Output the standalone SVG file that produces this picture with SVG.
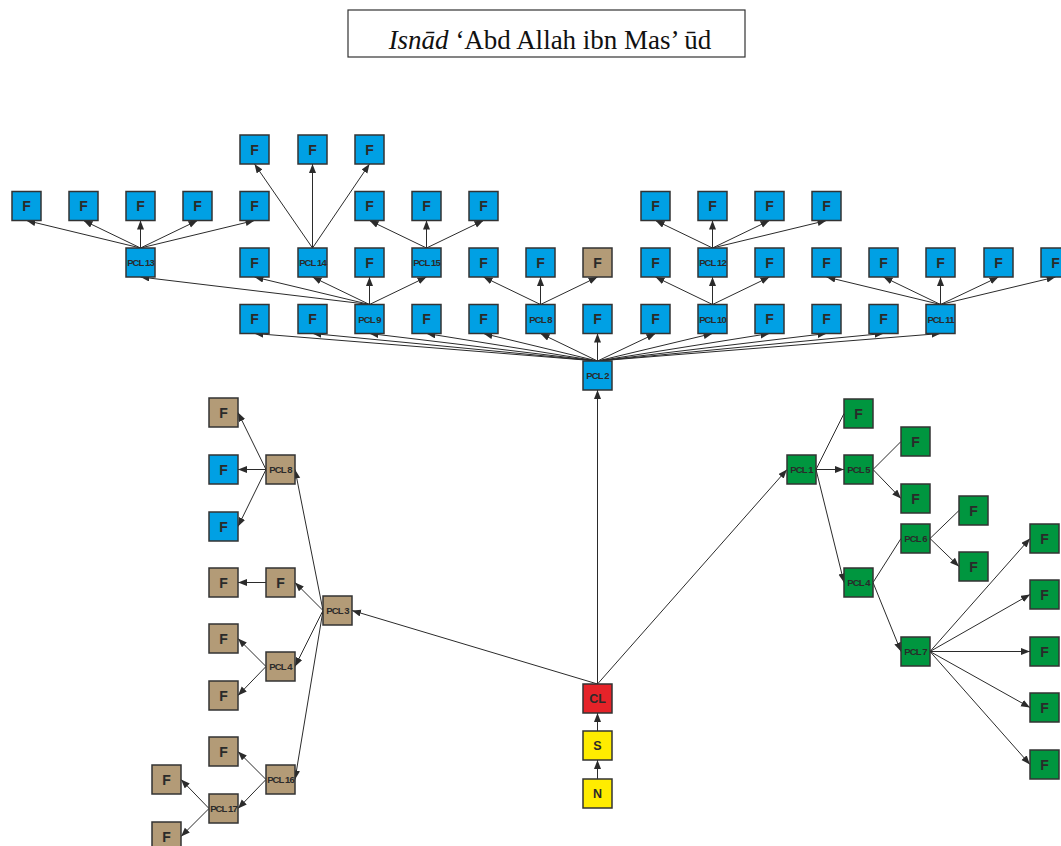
<svg xmlns="http://www.w3.org/2000/svg" width="1061" height="846" viewBox="0 0 1061 846">
  <style>
    .nd rect { stroke: #333333; stroke-width: 1.5; }
    .blue rect { fill: #00a0e4; }
    .brown rect { fill: #b39b77; }
    .green rect { fill: #00963f; }
    .red rect { fill: #e52329; }
    .yellow rect { fill: #ffec00; }
    .nd text { font-family: "Liberation Sans", Arial, sans-serif; font-weight: bold; fill: #2a2a2a; text-anchor: middle; }
    .f { font-size: 14px; }
    .p { font-size: 9.5px; letter-spacing: -0.9px; }
    .m { font-size: 12.5px; }
    .e line { stroke: #2b2b2b; stroke-width: 1; }
    .e line.a { marker-end: url(#ah); }
    .title { font-family: "Liberation Serif", "Times New Roman", serif; font-size: 27px; fill: #111; text-anchor: middle; }
  </style>
  <defs>
    <marker id="ah" markerUnits="userSpaceOnUse" markerWidth="10" markerHeight="8" refX="9" refY="3.5" orient="auto">
      <path d="M0,0 L9,3.5 L0,7 z" fill="#2b2b2b"/>
    </marker>
  </defs>
  <rect width="1061" height="846" fill="#ffffff"/>

  <!-- title -->
  <g id="title">
    <rect x="348" y="10" width="397" height="47" fill="#fff" stroke="#333" stroke-width="1.2"/>
    <text class="title" x="550" y="49"><tspan font-style="italic">Isnād</tspan> ‘Abd Allah ibn Mas’ ūd</text>
  </g>

  <!-- connectors -->
  <g id="edges" class="e">
    <!-- PCL 2 fan -->
    <line class="a" x1="597.5" y1="361" x2="254.5" y2="333.5"/>
    <line class="a" x1="597.5" y1="361" x2="312.5" y2="333.5"/>
    <line class="a" x1="597.5" y1="361" x2="369.5" y2="333.5"/>
    <line class="a" x1="597.5" y1="361" x2="426.5" y2="333.5"/>
    <line class="a" x1="597.5" y1="361" x2="483.5" y2="333.5"/>
    <line class="a" x1="597.5" y1="361" x2="540.5" y2="333.5"/>
    <line class="a" x1="597.5" y1="361" x2="597.5" y2="333.5"/>
    <line class="a" x1="597.5" y1="361" x2="655.5" y2="333.5"/>
    <line class="a" x1="597.5" y1="361" x2="712.5" y2="333.5"/>
    <line class="a" x1="597.5" y1="361" x2="769.5" y2="333.5"/>
    <line class="a" x1="597.5" y1="361" x2="826.5" y2="333.5"/>
    <line class="a" x1="597.5" y1="361" x2="883.5" y2="333.5"/>
    <line class="a" x1="597.5" y1="361" x2="940.5" y2="333.5"/>
    <!-- PCL 9 -->
    <line class="a" x1="369.5" y1="304.5" x2="140.5" y2="277"/>
    <line class="a" x1="369.5" y1="304.5" x2="254.5" y2="277"/>
    <line class="a" x1="369.5" y1="304.5" x2="312.5" y2="277"/>
    <line class="a" x1="369.5" y1="304.5" x2="369.5" y2="277"/>
    <line class="a" x1="369.5" y1="304.5" x2="426.5" y2="277"/>
    <!-- PCL 8 (top) -->
    <line class="a" x1="540.5" y1="304.5" x2="483.5" y2="277"/>
    <line class="a" x1="540.5" y1="304.5" x2="540.5" y2="277"/>
    <line class="a" x1="540.5" y1="304.5" x2="597.5" y2="277"/>
    <!-- PCL 10 -->
    <line class="a" x1="712.5" y1="304.5" x2="655.5" y2="277"/>
    <line class="a" x1="712.5" y1="304.5" x2="712.5" y2="277"/>
    <line class="a" x1="712.5" y1="304.5" x2="769.5" y2="277"/>
    <!-- PCL 11 -->
    <line class="a" x1="940.5" y1="304.5" x2="826.5" y2="277"/>
    <line class="a" x1="940.5" y1="304.5" x2="883.5" y2="277"/>
    <line class="a" x1="940.5" y1="304.5" x2="940.5" y2="277"/>
    <line class="a" x1="940.5" y1="304.5" x2="998.5" y2="277"/>
    <line class="a" x1="940.5" y1="304.5" x2="1055.5" y2="277"/>
    <!-- PCL 13 -->
    <line class="a" x1="140.5" y1="248" x2="26.5" y2="220.5"/>
    <line class="a" x1="140.5" y1="248" x2="83.5" y2="220.5"/>
    <line class="a" x1="140.5" y1="248" x2="140.5" y2="220.5"/>
    <line class="a" x1="140.5" y1="248" x2="197.5" y2="220.5"/>
    <line class="a" x1="140.5" y1="248" x2="254.5" y2="220.5"/>
    <!-- PCL 14 -->
    <line class="a" x1="312.5" y1="248" x2="254.5" y2="164"/>
    <line class="a" x1="312.5" y1="248" x2="312.5" y2="164"/>
    <line class="a" x1="312.5" y1="248" x2="369.5" y2="164"/>
    <!-- PCL 15 -->
    <line class="a" x1="426.5" y1="248" x2="369.5" y2="220.5"/>
    <line class="a" x1="426.5" y1="248" x2="426.5" y2="220.5"/>
    <line class="a" x1="426.5" y1="248" x2="483.5" y2="220.5"/>
    <!-- PCL 12 -->
    <line class="a" x1="712.5" y1="248" x2="655.5" y2="220.5"/>
    <line class="a" x1="712.5" y1="248" x2="712.5" y2="220.5"/>
    <line class="a" x1="712.5" y1="248" x2="769.5" y2="220.5"/>
    <line class="a" x1="712.5" y1="248" x2="826.5" y2="220.5"/>

    <!-- trunk -->
    <line class="a" x1="597.5" y1="779" x2="597.5" y2="760"/>
    <line class="a" x1="597.5" y1="731" x2="597.5" y2="713"/>
    <line class="a" x1="597.5" y1="684" x2="597.5" y2="390"/>
    <line class="a" x1="597.5" y1="684" x2="352" y2="610.5"/>
    <line class="a" x1="597.5" y1="684" x2="787" y2="469.5"/>

    <!-- PCL 3 branch -->
    <line class="a" x1="323" y1="610.5" x2="295" y2="469.5"/>
    <line class="a" x1="323" y1="610.5" x2="295" y2="582.5"/>
    <line class="a" x1="323" y1="610.5" x2="295" y2="666.5"/>
    <line class="a" x1="323" y1="610.5" x2="295" y2="779.5"/>
    <line class="a" x1="266" y1="469.5" x2="238" y2="412.5"/>
    <line class="a" x1="266" y1="469.5" x2="238" y2="469.5"/>
    <line class="a" x1="266" y1="469.5" x2="238" y2="526.5"/>
    <line class="a" x1="266" y1="582.5" x2="238" y2="582.5"/>
    <line class="a" x1="266" y1="666.5" x2="238" y2="638.5"/>
    <line class="a" x1="266" y1="666.5" x2="238" y2="695.5"/>
    <line class="a" x1="266" y1="779.5" x2="238" y2="751.5"/>
    <line class="a" x1="266" y1="779.5" x2="238" y2="808.5"/>
    <line class="a" x1="209" y1="808.5" x2="181" y2="779.5"/>
    <line class="a" x1="209" y1="808.5" x2="181" y2="836.5"/>

    <!-- PCL 1 branch -->
    <line x1="816" y1="469.5" x2="844" y2="413.5"/>
    <line class="a" x1="816" y1="469.5" x2="844" y2="469.5"/>
    <line class="a" x1="816" y1="469.5" x2="844" y2="582.5"/>
    <line x1="873" y1="469.5" x2="901" y2="441.5"/>
    <line class="a" x1="873" y1="469.5" x2="901" y2="498.5"/>
    <line x1="873" y1="582.5" x2="901" y2="538.5"/>
    <line class="a" x1="873" y1="582.5" x2="901" y2="651.5"/>
    <line x1="930" y1="538.5" x2="959" y2="510.5"/>
    <line class="a" x1="930" y1="538.5" x2="959" y2="566.5"/>
    <line class="a" x1="930" y1="651.5" x2="1030" y2="538.5"/>
    <line class="a" x1="930" y1="651.5" x2="1030" y2="594.5"/>
    <line class="a" x1="930" y1="651.5" x2="1030" y2="651.5"/>
    <line class="a" x1="930" y1="651.5" x2="1030" y2="707.5"/>
    <line class="a" x1="930" y1="651.5" x2="1030" y2="764.5"/>
  </g>

  <!-- upper blue tree -->
  <g id="pcl2" class="nd blue"><rect x="583" y="361" width="29" height="29"/><text class="p" x="597.5" y="378.5">PCL 2</text></g>

  <g id="fA4" class="nd blue"><rect x="240" y="135" width="29" height="29"/><text class="f" x="254.5" y="154.5">F</text></g>
  <g id="fA5" class="nd blue"><rect x="298" y="135" width="29" height="29"/><text class="f" x="312.5" y="154.5">F</text></g>
  <g id="fA6" class="nd blue"><rect x="355" y="135" width="29" height="29"/><text class="f" x="369.5" y="154.5">F</text></g>

  <g id="fB0" class="nd blue"><rect x="12" y="191.5" width="29" height="29"/><text class="f" x="26.5" y="211">F</text></g>
  <g id="fB1" class="nd blue"><rect x="69" y="191.5" width="29" height="29"/><text class="f" x="83.5" y="211">F</text></g>
  <g id="fB2" class="nd blue"><rect x="126" y="191.5" width="29" height="29"/><text class="f" x="140.5" y="211">F</text></g>
  <g id="fB3" class="nd blue"><rect x="183" y="191.5" width="29" height="29"/><text class="f" x="197.5" y="211">F</text></g>
  <g id="fB4" class="nd blue"><rect x="240" y="191.5" width="29" height="29"/><text class="f" x="254.5" y="211">F</text></g>
  <g id="fB6" class="nd blue"><rect x="355" y="191.5" width="29" height="29"/><text class="f" x="369.5" y="211">F</text></g>
  <g id="fB7" class="nd blue"><rect x="412" y="191.5" width="29" height="29"/><text class="f" x="426.5" y="211">F</text></g>
  <g id="fB8" class="nd blue"><rect x="469" y="191.5" width="29" height="29"/><text class="f" x="483.5" y="211">F</text></g>
  <g id="fB11" class="nd blue"><rect x="641" y="191.5" width="29" height="29"/><text class="f" x="655.5" y="211">F</text></g>
  <g id="fB12" class="nd blue"><rect x="698" y="191.5" width="29" height="29"/><text class="f" x="712.5" y="211">F</text></g>
  <g id="fB13" class="nd blue"><rect x="755" y="191.5" width="29" height="29"/><text class="f" x="769.5" y="211">F</text></g>
  <g id="fB14" class="nd blue"><rect x="812" y="191.5" width="29" height="29"/><text class="f" x="826.5" y="211">F</text></g>

  <g id="pcl13" class="nd blue"><rect x="126" y="248" width="29" height="29"/><text class="p" x="140.5" y="266">PCL 13</text></g>
  <g id="fC4" class="nd blue"><rect x="240" y="248" width="29" height="29"/><text class="f" x="254.5" y="267.5">F</text></g>
  <g id="pcl14" class="nd blue"><rect x="298" y="248" width="29" height="29"/><text class="p" x="312.5" y="266">PCL 14</text></g>
  <g id="fC6" class="nd blue"><rect x="355" y="248" width="29" height="29"/><text class="f" x="369.5" y="267.5">F</text></g>
  <g id="pcl15" class="nd blue"><rect x="412" y="248" width="29" height="29"/><text class="p" x="426.5" y="266">PCL 15</text></g>
  <g id="fC8" class="nd blue"><rect x="469" y="248" width="29" height="29"/><text class="f" x="483.5" y="267.5">F</text></g>
  <g id="fC9" class="nd blue"><rect x="526" y="248" width="29" height="29"/><text class="f" x="540.5" y="267.5">F</text></g>
  <g id="fC10" class="nd brown"><rect x="583" y="248" width="29" height="29"/><text class="f" x="597.5" y="267.5">F</text></g>
  <g id="fC11" class="nd blue"><rect x="641" y="248" width="29" height="29"/><text class="f" x="655.5" y="267.5">F</text></g>
  <g id="pcl12" class="nd blue"><rect x="698" y="248" width="29" height="29"/><text class="p" x="712.5" y="266">PCL 12</text></g>
  <g id="fC13" class="nd blue"><rect x="755" y="248" width="29" height="29"/><text class="f" x="769.5" y="267.5">F</text></g>
  <g id="fC14" class="nd blue"><rect x="812" y="248" width="29" height="29"/><text class="f" x="826.5" y="267.5">F</text></g>
  <g id="fC15" class="nd blue"><rect x="869" y="248" width="29" height="29"/><text class="f" x="883.5" y="267.5">F</text></g>
  <g id="fC16" class="nd blue"><rect x="926" y="248" width="29" height="29"/><text class="f" x="940.5" y="267.5">F</text></g>
  <g id="fC17" class="nd blue"><rect x="984" y="248" width="29" height="29"/><text class="f" x="998.5" y="267.5">F</text></g>
  <g id="fC18" class="nd blue"><rect x="1041" y="248" width="29" height="29"/><text class="f" x="1055.5" y="267.5">F</text></g>

  <g id="fD4" class="nd blue"><rect x="240" y="304.5" width="29" height="29"/><text class="f" x="254.5" y="324">F</text></g>
  <g id="fD5" class="nd blue"><rect x="298" y="304.5" width="29" height="29"/><text class="f" x="312.5" y="324">F</text></g>
  <g id="pcl9" class="nd blue"><rect x="355" y="304.5" width="29" height="29"/><text class="p" x="369.5" y="322.5">PCL 9</text></g>
  <g id="fD7" class="nd blue"><rect x="412" y="304.5" width="29" height="29"/><text class="f" x="426.5" y="324">F</text></g>
  <g id="fD8" class="nd blue"><rect x="469" y="304.5" width="29" height="29"/><text class="f" x="483.5" y="324">F</text></g>
  <g id="pcl8" class="nd blue"><rect x="526" y="304.5" width="29" height="29"/><text class="p" x="540.5" y="322.5">PCL 8</text></g>
  <g id="fD10" class="nd blue"><rect x="583" y="304.5" width="29" height="29"/><text class="f" x="597.5" y="324">F</text></g>
  <g id="fD11" class="nd blue"><rect x="641" y="304.5" width="29" height="29"/><text class="f" x="655.5" y="324">F</text></g>
  <g id="pcl10" class="nd blue"><rect x="698" y="304.5" width="29" height="29"/><text class="p" x="712.5" y="322.5">PCL 10</text></g>
  <g id="fD13" class="nd blue"><rect x="755" y="304.5" width="29" height="29"/><text class="f" x="769.5" y="324">F</text></g>
  <g id="fD14" class="nd blue"><rect x="812" y="304.5" width="29" height="29"/><text class="f" x="826.5" y="324">F</text></g>
  <g id="fD15" class="nd blue"><rect x="869" y="304.5" width="29" height="29"/><text class="f" x="883.5" y="324">F</text></g>
  <g id="pcl11" class="nd blue"><rect x="926" y="304.5" width="29" height="29"/><text class="p" x="940.5" y="322.5">PCL 11</text></g>

  <!-- trunk nodes -->
  <g id="cl" class="nd red"><rect x="583" y="684" width="29" height="29"/><text class="m" x="597.5" y="703">CL</text></g>
  <g id="s" class="nd yellow"><rect x="583" y="731" width="29" height="29"/><text class="m" x="597.5" y="750">S</text></g>
  <g id="n" class="nd yellow"><rect x="583" y="779" width="29" height="29"/><text class="m" x="597.5" y="798">N</text></g>

  <!-- brown branch -->
  <g id="pcl3" class="nd brown"><rect x="323" y="596" width="29" height="29"/><text class="p" x="337.5" y="614">PCL 3</text></g>
  <g id="pcl8b" class="nd brown"><rect x="266" y="455" width="29" height="29"/><text class="p" x="280.5" y="473">PCL 8</text></g>
  <g id="fb1" class="nd brown"><rect x="209" y="398" width="29" height="29"/><text class="f" x="223.5" y="417.5">F</text></g>
  <g id="fbl1" class="nd blue"><rect x="209" y="455" width="29" height="29"/><text class="f" x="223.5" y="474.5">F</text></g>
  <g id="fbl2" class="nd blue"><rect x="209" y="512" width="29" height="29"/><text class="f" x="223.5" y="531.5">F</text></g>
  <g id="fb2" class="nd brown"><rect x="209" y="568" width="29" height="29"/><text class="f" x="223.5" y="587.5">F</text></g>
  <g id="fb3" class="nd brown"><rect x="266" y="568" width="29" height="29"/><text class="f" x="280.5" y="587.5">F</text></g>
  <g id="pcl4b" class="nd brown"><rect x="266" y="652" width="29" height="29"/><text class="p" x="280.5" y="670">PCL 4</text></g>
  <g id="fb4" class="nd brown"><rect x="209" y="624" width="29" height="29"/><text class="f" x="223.5" y="643.5">F</text></g>
  <g id="fb5" class="nd brown"><rect x="209" y="681" width="29" height="29"/><text class="f" x="223.5" y="700.5">F</text></g>
  <g id="pcl16" class="nd brown"><rect x="266" y="765" width="29" height="29"/><text class="p" x="280.5" y="783">PCL 16</text></g>
  <g id="fb6" class="nd brown"><rect x="209" y="737" width="29" height="29"/><text class="f" x="223.5" y="756.5">F</text></g>
  <g id="pcl17" class="nd brown"><rect x="209" y="794" width="29" height="29"/><text class="p" x="223.5" y="812">PCL 17</text></g>
  <g id="fb7" class="nd brown"><rect x="152" y="765" width="29" height="29"/><text class="f" x="166.5" y="784.5">F</text></g>
  <g id="fb8" class="nd brown"><rect x="152" y="822" width="29" height="29"/><text class="f" x="166.5" y="841.5">F</text></g>

  <!-- green branch -->
  <g id="pcl1" class="nd green"><rect x="787" y="455" width="29" height="29"/><text class="p" x="801.5" y="473">PCL 1</text></g>
  <g id="fg1" class="nd green"><rect x="844" y="399" width="29" height="29"/><text class="f" x="858.5" y="418.5">F</text></g>
  <g id="pcl5" class="nd green"><rect x="844" y="455" width="29" height="29"/><text class="p" x="858.5" y="473">PCL 5</text></g>
  <g id="fg2" class="nd green"><rect x="901" y="427" width="29" height="29"/><text class="f" x="915.5" y="446.5">F</text></g>
  <g id="fg3" class="nd green"><rect x="901" y="484" width="29" height="29"/><text class="f" x="915.5" y="503.5">F</text></g>
  <g id="pcl4g" class="nd green"><rect x="844" y="568" width="29" height="29"/><text class="p" x="858.5" y="586">PCL 4</text></g>
  <g id="pcl6" class="nd green"><rect x="901" y="524" width="29" height="29"/><text class="p" x="915.5" y="542">PCL 6</text></g>
  <g id="fg4" class="nd green"><rect x="959" y="496" width="29" height="29"/><text class="f" x="973.5" y="515.5">F</text></g>
  <g id="fg5" class="nd green"><rect x="959" y="552" width="29" height="29"/><text class="f" x="973.5" y="571.5">F</text></g>
  <g id="pcl7" class="nd green"><rect x="901" y="637" width="29" height="29"/><text class="p" x="915.5" y="655">PCL 7</text></g>
  <g id="fg6" class="nd green"><rect x="1030" y="524" width="29" height="29"/><text class="f" x="1044.5" y="543.5">F</text></g>
  <g id="fg7" class="nd green"><rect x="1030" y="580" width="29" height="29"/><text class="f" x="1044.5" y="599.5">F</text></g>
  <g id="fg8" class="nd green"><rect x="1030" y="637" width="29" height="29"/><text class="f" x="1044.5" y="656.5">F</text></g>
  <g id="fg9" class="nd green"><rect x="1030" y="693" width="29" height="29"/><text class="f" x="1044.5" y="712.5">F</text></g>
  <g id="fg10" class="nd green"><rect x="1030" y="750" width="29" height="29"/><text class="f" x="1044.5" y="769.5">F</text></g>
</svg>
